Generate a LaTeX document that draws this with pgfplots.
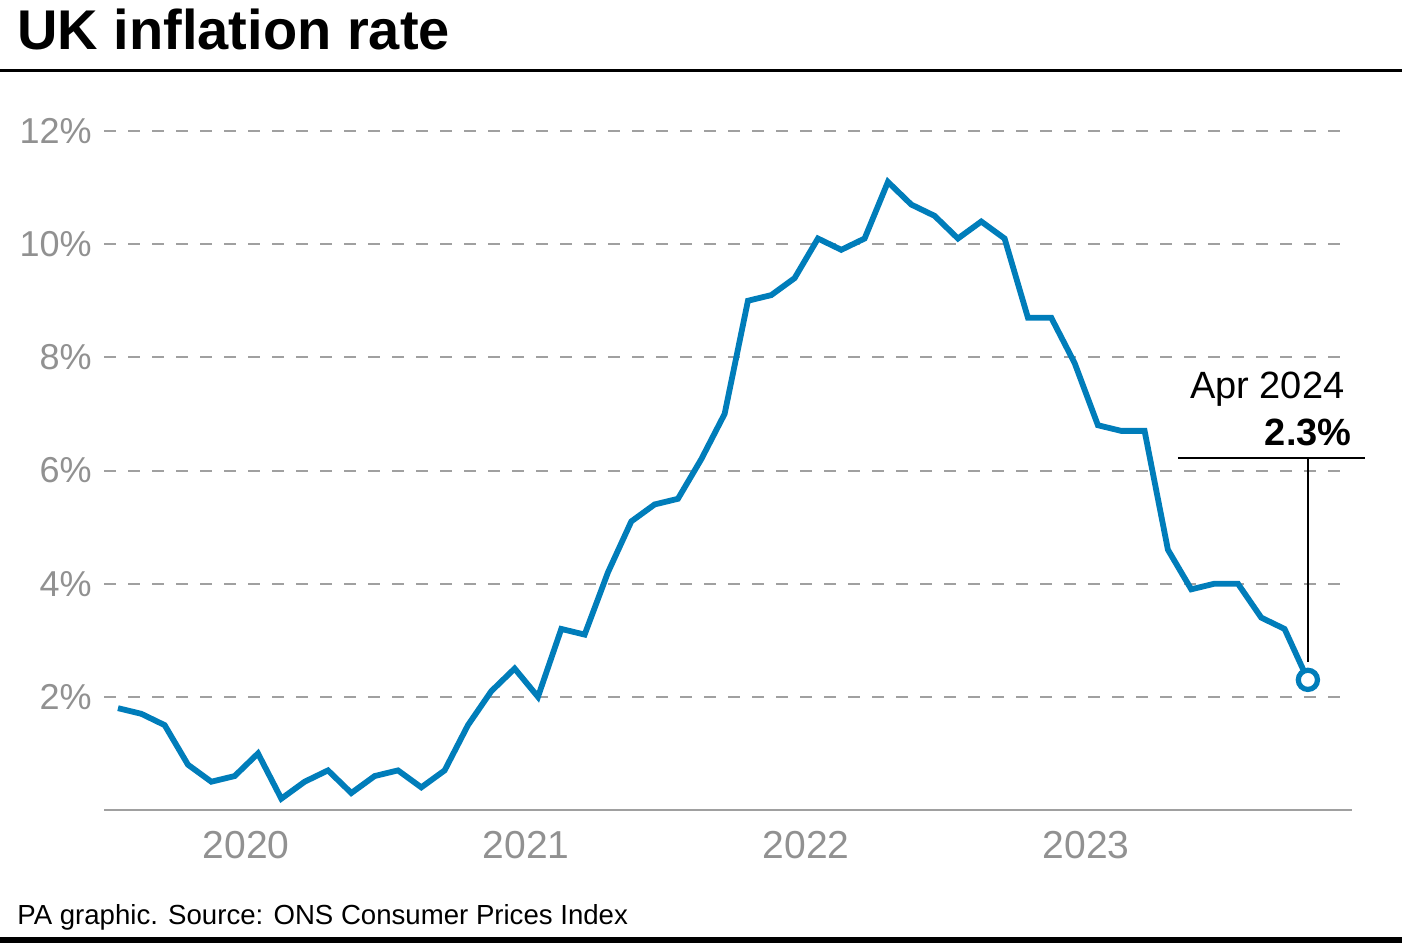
\documentclass[border=0pt]{standalone}
\usepackage{fontspec}
\setmainfont{Liberation Sans}
\usepackage{pgfplots}
\pgfplotsset{compat=1.18}
\definecolor{lineblue}{RGB}{0,125,186}
\definecolor{ticgray}{RGB}{145,145,145}
\definecolor{gridgray}{RGB}{160,160,160}
\begin{document}
\begin{tikzpicture}
\useasboundingbox (0pt,0pt) rectangle (701pt,471.5pt);
\fill[white] (0pt,0pt) rectangle (701pt,471.5pt);
% title
\node[anchor=base west, inner sep=0pt, font=\fontsize{28}{30}\selectfont\bfseries] at (8.5pt,446.5pt) {UK inflation rate};
\draw[black, line width=1.5pt] (0pt,436pt) -- (701pt,436pt);
% footer
\node[anchor=base west, inner sep=0pt, font=\fontsize{13.8}{16}\selectfont] at (8.5pt,9.5pt) {PA graphic. Source: ONS Consumer Prices Index};
\fill[black] (0pt,0pt) rectangle (701pt,3pt);
\begin{axis}[
  at={(52pt,66.5pt)}, anchor=south west,
  scale only axis, width=624pt, height=339.5pt,
  xmin=-0.6, xmax=52.89, ymin=0, ymax=12,
  clip=false,
  axis x line*=bottom,
  axis y line*=left,
  y axis line style={draw=none},
  x axis line style={gridgray, line width=1pt, -},
  ytick={2,4,6,8,10,12},
  yticklabels={2\%,4\%,6\%,8\%,10\%,12\%},
  xtick={5.5,17.5,29.5,41.5},
  xticklabels={2020,2021,2022,2023},
  major tick length=0pt,
  ymajorgrids,
  major grid style={gridgray, line width=1pt, dash pattern=on 6pt off 6pt},
  /pgf/number format/assume math mode=true,
  tick label style={ticgray, inner sep=0pt, font=\fontsize{18}{20}\selectfont},
  yticklabel style={anchor=east, xshift=-6pt},
  xticklabel style={anchor=center, yshift=-17.5pt, font=\fontsize{19.5}{22}\selectfont},
]
\addplot[lineblue, line width=2.9pt, line join=miter, mark=none] coordinates {
(0,1.8) (1,1.7) (2,1.5) (3,0.8) (4,0.5) (5,0.6) (6,1.0) (7,0.2) (8,0.5) (9,0.7) (10,0.3) (11,0.6)
(12,0.7) (13,0.4) (14,0.7) (15,1.5) (16,2.1) (17,2.5) (18,2.0) (19,3.2) (20,3.1) (21,4.2) (22,5.1) (23,5.4)
(24,5.5) (25,6.2) (26,7.0) (27,9.0) (28,9.1) (29,9.4) (30,10.1) (31,9.9) (32,10.1) (33,11.1) (34,10.7) (35,10.5)
(36,10.1) (37,10.4) (38,10.1) (39,8.7) (40,8.7) (41,7.9) (42,6.8) (43,6.7) (44,6.7) (45,4.6) (46,3.9) (47,4.0)
(48,4.0) (49,3.4) (50,3.2) (51,2.3)
};
\draw[black, line width=0.75pt] (axis cs:45.43,6.22) -- (axis cs:53.44,6.22);
\draw[black, line width=0.75pt] (axis cs:51,6.22) -- (axis cs:51,2.62);
\addplot[lineblue, mark=*, mark size=4.8pt, mark options={fill=white, draw=lineblue, line width=2.6pt}, only marks] coordinates {(51,2.3)};
\node[anchor=base east, inner sep=0pt, font=\fontsize{19}{22}\selectfont] at (axis cs:52.58,7.28) {Apr 2024};
\node[anchor=base east, inner sep=0pt, font=\fontsize{19}{22}\selectfont\bfseries] at (axis cs:52.89,6.44) {2.3\%};
\end{axis}
\end{tikzpicture}
\end{document}
